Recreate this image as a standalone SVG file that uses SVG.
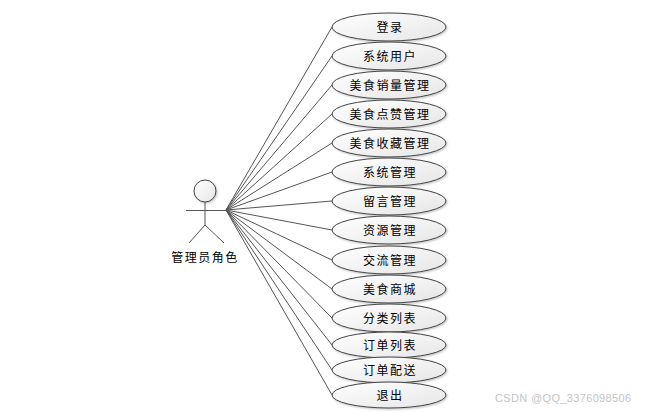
<svg xmlns="http://www.w3.org/2000/svg" width="651" height="412" viewBox="0 0 651 412">
<style>
.u{fill:url(#g);stroke:#444;stroke-width:1}
.s{fill:none;stroke:#555;stroke-width:1}
.t{font-family:"Noto Sans CJK SC","Liberation Sans",sans-serif;font-size:12px;letter-spacing:1.5px;fill:#000;text-anchor:middle}
.w{font-family:"Liberation Sans",sans-serif;font-size:11px;letter-spacing:0.35px;fill:#c4c4c4}
</style>
<defs>
<linearGradient id="g" x1="0" y1="0" x2="1" y2="1"><stop offset="0" stop-color="#fff"/><stop offset="1" stop-color="#e6e6e6"/></linearGradient>
<filter id="f" x="-10%" y="-10%" width="125%" height="130%"><feDropShadow dx="1" dy="1" stdDeviation="0.8" flood-color="#000" flood-opacity="0.25"/></filter>
</defs>
<rect width="651" height="412" fill="#fff"/>
<g id="connectors" class="s">
<path d="M226 210L332 27"/><path d="M226 210L332 56"/><path d="M226 210L332 85"/><path d="M226 210L332 114"/><path d="M226 210L332 143"/><path d="M226 210L332 172"/><path d="M226 210L332 201"/><path d="M226 210L332 230"/><path d="M226 210L332 260"/><path d="M226 210L332 289"/><path d="M226 210L332 318"/><path d="M226 210L332 345"/><path d="M226 210L332 370"/><path d="M226 210L332 395"/>
</g>
<g id="actor">
<circle cx="205" cy="191" r="11" class="u" filter="url(#f)"/>
<path class="s" d="M205 202V225M186 210.500H226M205 225L189 243M205 225L224 243"/>
<text x="205" y="262" class="t">管理员角色</text>
</g>
<g id="uc1"><ellipse cx="389" cy="27" rx="57" ry="14" class="u" filter="url(#f)"/><text x="390" y="32" class="t">登录</text></g>
<g id="uc2"><ellipse cx="389" cy="56" rx="57" ry="14" class="u" filter="url(#f)"/><text x="390" y="61" class="t">系统用户</text></g>
<g id="uc3"><ellipse cx="389" cy="85" rx="57" ry="14" class="u" filter="url(#f)"/><text x="390" y="90" class="t">美食销量管理</text></g>
<g id="uc4"><ellipse cx="389" cy="114" rx="57" ry="14" class="u" filter="url(#f)"/><text x="390" y="119" class="t">美食点赞管理</text></g>
<g id="uc5"><ellipse cx="389" cy="143" rx="57" ry="14" class="u" filter="url(#f)"/><text x="390" y="148" class="t">美食收藏管理</text></g>
<g id="uc6"><ellipse cx="389" cy="172" rx="57" ry="14" class="u" filter="url(#f)"/><text x="390" y="177" class="t">系统管理</text></g>
<g id="uc7"><ellipse cx="389" cy="201" rx="57" ry="14" class="u" filter="url(#f)"/><text x="390" y="206" class="t">留言管理</text></g>
<g id="uc8"><ellipse cx="389" cy="230" rx="57" ry="14" class="u" filter="url(#f)"/><text x="390" y="235" class="t">资源管理</text></g>
<g id="uc9"><ellipse cx="389" cy="260" rx="57" ry="14" class="u" filter="url(#f)"/><text x="390" y="265" class="t">交流管理</text></g>
<g id="uc10"><ellipse cx="389" cy="289" rx="57" ry="14" class="u" filter="url(#f)"/><text x="390" y="294" class="t">美食商城</text></g>
<g id="uc11"><ellipse cx="389" cy="318" rx="57" ry="14" class="u" filter="url(#f)"/><text x="390" y="323" class="t">分类列表</text></g>
<g id="uc12"><ellipse cx="389" cy="345" rx="57" ry="13" class="u" filter="url(#f)"/><text x="390" y="350" class="t">订单列表</text></g>
<g id="uc13"><ellipse cx="389" cy="370" rx="57" ry="13" class="u" filter="url(#f)"/><text x="390" y="375" class="t">订单配送</text></g>
<g id="uc14"><ellipse cx="389" cy="395" rx="57" ry="13" class="u" filter="url(#f)"/><text x="390" y="400" class="t">退出</text></g>
<text x="495" y="402" class="w">CSDN @QQ_3376098506</text>
</svg>
